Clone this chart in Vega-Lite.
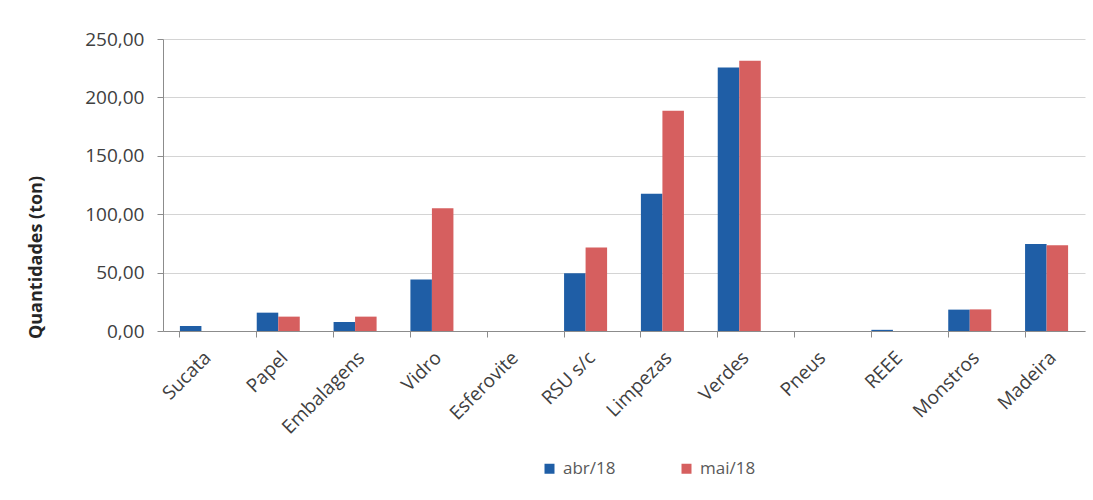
{
  "$schema": "https://vega.github.io/schema/vega-lite/v6.json",
  "autosize": {"type": "none"},
  "width": 922,
  "height": 292,
  "padding": {"left": 163, "top": 39, "right": 8, "bottom": 169},
  "background": "white",
  "config": {
    "locale": {"number": {"decimal": ",", "thousands": ".", "grouping": [3], "currency": ["", " €"]}},
    "font": "Open Sans",
    "view": {"stroke": null}
  },
  "data": {
    "values": [
      {"cat": "Sucata", "mes": "abr/18", "v": 4.3},
      {"cat": "Sucata", "mes": "mai/18", "v": 0},
      {"cat": "Papel", "mes": "abr/18", "v": 15.7},
      {"cat": "Papel", "mes": "mai/18", "v": 12.3},
      {"cat": "Embalagens", "mes": "abr/18", "v": 7.7},
      {"cat": "Embalagens", "mes": "mai/18", "v": 12.3},
      {"cat": "Vidro", "mes": "abr/18", "v": 44.1},
      {"cat": "Vidro", "mes": "mai/18", "v": 105},
      {"cat": "Esferovite", "mes": "abr/18", "v": 0},
      {"cat": "Esferovite", "mes": "mai/18", "v": 0},
      {"cat": "RSU s/c", "mes": "abr/18", "v": 49.5},
      {"cat": "RSU s/c", "mes": "mai/18", "v": 71.5},
      {"cat": "Limpezas", "mes": "abr/18", "v": 117.5},
      {"cat": "Limpezas", "mes": "mai/18", "v": 188.5},
      {"cat": "Verdes", "mes": "abr/18", "v": 225.6},
      {"cat": "Verdes", "mes": "mai/18", "v": 231.3},
      {"cat": "Pneus", "mes": "abr/18", "v": 0},
      {"cat": "Pneus", "mes": "mai/18", "v": 0},
      {"cat": "REEE", "mes": "abr/18", "v": 1},
      {"cat": "REEE", "mes": "mai/18", "v": 0},
      {"cat": "Monstros", "mes": "abr/18", "v": 18.3},
      {"cat": "Monstros", "mes": "mai/18", "v": 18.5},
      {"cat": "Madeira", "mes": "abr/18", "v": 74.5},
      {"cat": "Madeira", "mes": "mai/18", "v": 73.5}
    ]
  },
  "mark": {"type": "bar"},
  "encoding": {
    "x": {
      "field": "cat",
      "type": "nominal",
      "sort": null,
      "scale": {"paddingInner": 0.44, "paddingOuter": 0.22},
      "axis": {
        "title": null,
        "labelAngle": -45,
        "labelFontSize": 19,
        "labelColor": "#404040",
        "labelPadding": 11,
        "bandPosition": 0,
        "tickColor": "#8c8c8c",
        "tickSize": 6,
        "domainColor": "#8c8c8c",
        "grid": false
      }
    },
    "xOffset": {"field": "mes", "type": "nominal", "scale": {"paddingInner": 0, "paddingOuter": 0}},
    "y": {
      "field": "v",
      "type": "quantitative",
      "scale": {"domain": [0, 250], "nice": false},
      "axis": {
        "values": [0, 50, 100, 150, 200, 250],
        "format": ".2f",
        "title": "Quantidades (ton)",
        "titleFontSize": 18,
        "titleFontWeight": "bold",
        "titleColor": "#262626",
        "titleX": -118,
        "titleY": 218,
        "labelFontSize": 19,
        "labelColor": "#404040",
        "labelPadding": 13,
        "tickColor": "#8c8c8c",
        "tickSize": 6,
        "domainColor": "#8c8c8c",
        "gridColor": "#d4d4d4"
      }
    },
    "color": {
      "field": "mes",
      "type": "nominal",
      "scale": {"domain": ["abr/18", "mai/18"], "range": ["#1f5ea6", "#d65f5f"]},
      "legend": {
        "title": null,
        "orient": "none",
        "direction": "horizontal",
        "legendX": 378,
        "legendY": 421,
        "symbolType": "square",
        "symbolSize": 100,
        "symbolStrokeWidth": 0,
        "labelFontSize": 17,
        "labelColor": "#595959",
        "columnPadding": 62,
        "labelOffset": 5
      }
    }
  }
}
